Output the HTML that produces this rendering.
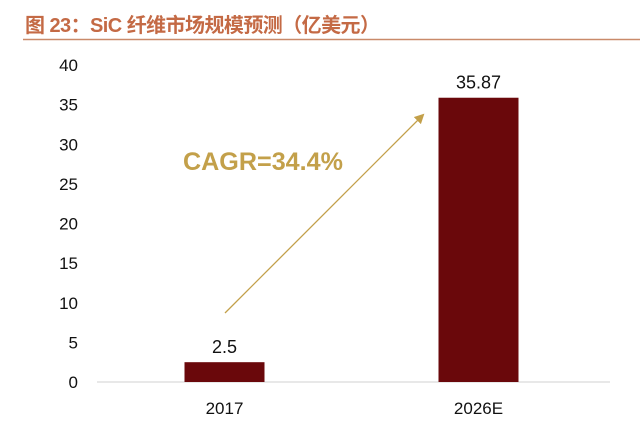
<!DOCTYPE html>
<html><head><meta charset="utf-8"><style>
body{margin:0;background:#fff;width:640px;height:432px;overflow:hidden}
svg text{font-family:"Liberation Sans","Noto Sans CJK SC",sans-serif}
</style></head><body>
<svg width="640" height="432">
<text x="25" y="32" font-size="20" font-weight="bold" fill="#c46a45" textLength="355" lengthAdjust="spacing">图 23：SiC 纤维市场规模预测（亿美元）</text>
<line x1="23" y1="39.5" x2="640" y2="39.5" stroke="#c98a6a" stroke-width="1.5"/>
<g id="yaxis"></g>
<line x1="97" y1="382" x2="610" y2="382" stroke="#d0d0d0"/>
<g id="bars"></g>
<defs><marker id="ah" markerWidth="10" markerHeight="10" refX="8" refY="5" orient="auto" markerUnits="userSpaceOnUse"><path d="M0,0 L10,5 L0,10 z" fill="#c3a04a"/></marker></defs>
<line x1="225" y1="313" x2="423" y2="115" stroke="#c3a04a" stroke-width="1.3" marker-end="url(#ah)"/>
<text x="183" y="170" font-size="25" font-weight="bold" fill="#c3a04a" textLength="160" lengthAdjust="spacingAndGlyphs">CAGR=34.4%</text>
</svg>
<script>
const categories=["2017","2026E"];
const values=[2.5,35.87];
const valueLabels=["2.5","35.87"];
const yTicks=[0,5,10,15,20,25,30,35,40];
const ns="http://www.w3.org/2000/svg";
const y=v=>382-v*7.925;
const x=i=>[224.5,478.5][i];
const ya=document.getElementById('yaxis');
yTicks.forEach(t=>{const e=document.createElementNS(ns,'text');


e.setAttribute('x',78);e.setAttribute('y',y(t)+6);e.setAttribute('text-anchor','end');e.setAttribute('font-size','17');e.setAttribute('fill','#111');e.textContent=t;ya.appendChild(e);});
const g=document.getElementById('bars');
categories.forEach((c,i)=>{const r=document.createElementNS(ns,'rect');


r.setAttribute('x',x(i)-40);r.setAttribute('width',80);r.setAttribute('y',y(values[i]));r.setAttribute('height',382-y(values[i]));r.setAttribute('fill','#6a080b');g.appendChild(r);
const v=document.createElementNS(ns,'text');


v.setAttribute('x',x(i));v.setAttribute('y',y(values[i])-9);v.setAttribute('text-anchor','middle');v.setAttribute('font-size','18');v.setAttribute('fill','#111');v.textContent=valueLabels[i];g.appendChild(v);
const l=document.createElementNS(ns,'text');


l.setAttribute('x',x(i));l.setAttribute('y',414);l.setAttribute('text-anchor','middle');l.setAttribute('font-size','17');l.setAttribute('fill','#111');l.textContent=c;g.appendChild(l);});
</script>
</body></html>
